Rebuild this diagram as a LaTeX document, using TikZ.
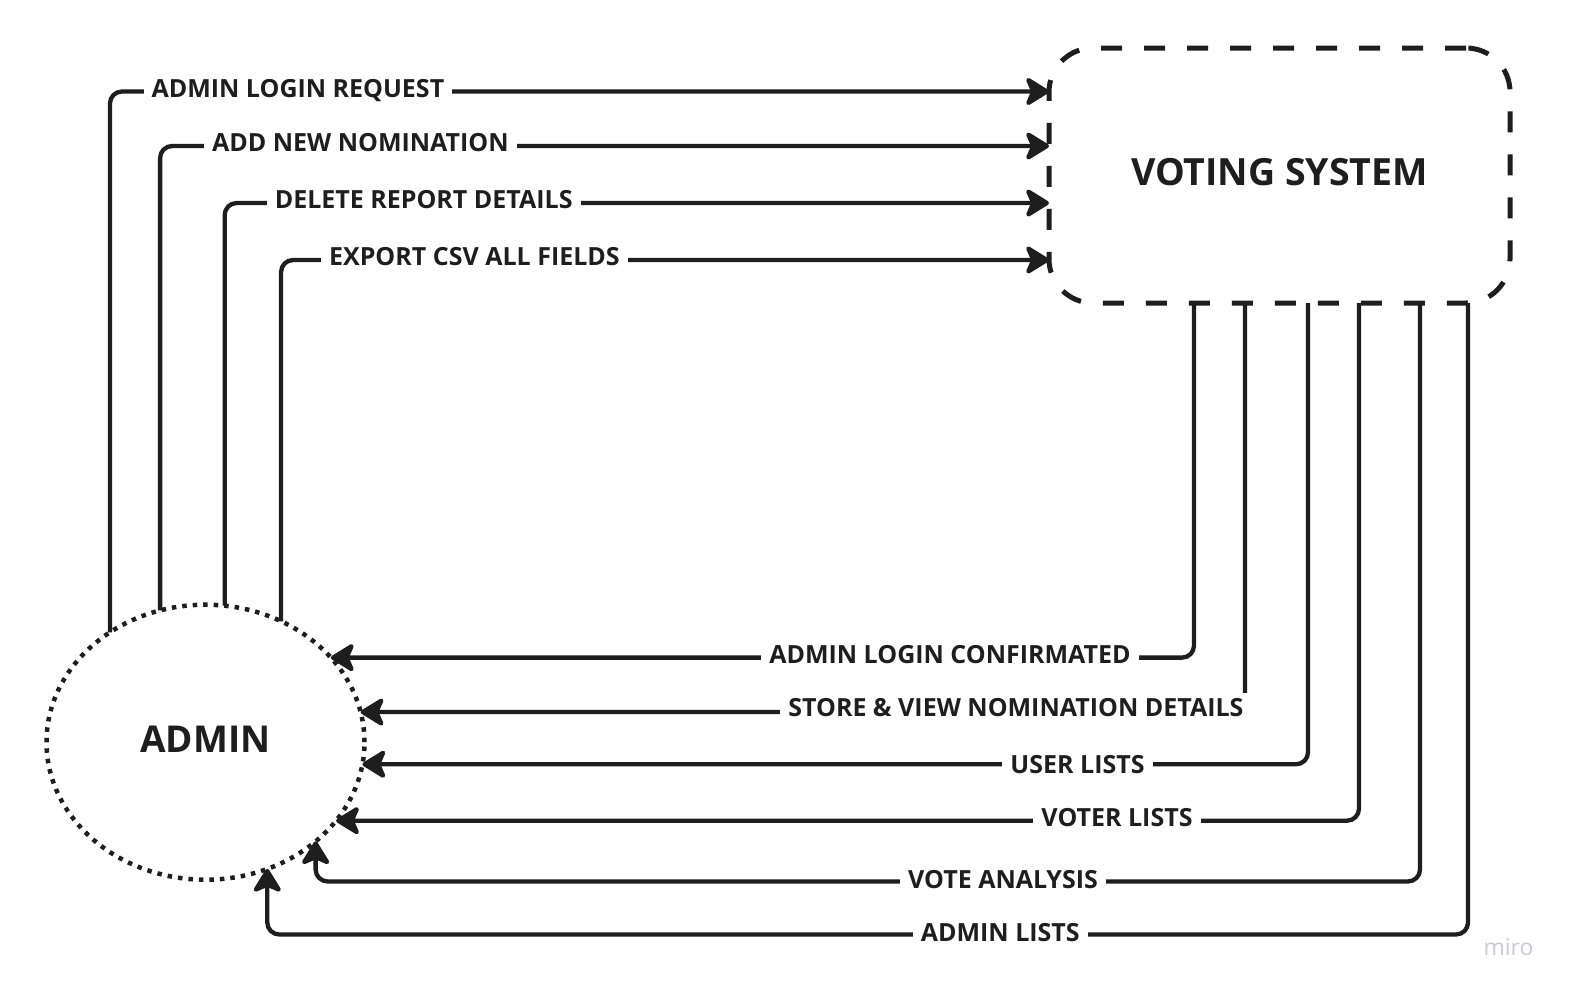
\documentclass[tikz,border=0pt]{standalone}
\usepackage{fontspec}
\setmainfont{Open Sans}
\usetikzlibrary{arrows.meta,shapes.geometric,backgrounds}
\definecolor{ink}{HTML}{1E1E1E}
\definecolor{miro}{HTML}{CACAD6}
\begin{document}
\begin{tikzpicture}[x=1pt,y=-1pt,
  conn/.style={draw=ink, line width=4.3pt, rounded corners=12pt},
  arr/.style={conn, -{Stealth[length=27pt,width=33pt,inset=7pt,round]}},
  lbl/.style={font=\fontsize{25}{29}\selectfont\bfseries, text=ink, fill=white,
              inner xsep=8pt, inner ysep=5pt, anchor=base},
  bigtxt/.style={font=\fontsize{37.5}{42}\selectfont\bfseries, text=ink, anchor=base},
]
\useasboundingbox (0,0) rectangle (1570,994);

% main nodes
\node[draw=ink, line width=5pt, dash pattern=on 21pt off 22pt,
      rounded corners=44pt, minimum width=461pt, minimum height=255pt,
      inner sep=0pt, outer sep=0pt] (vs) at (1279.5,175.5) {};
\node[bigtxt] (vstxt) at (1279.5,185.5) {VOTING SYSTEM};
\node[ellipse, draw=ink, line width=4.5pt, dash pattern=on 4.5pt off 6pt,
      minimum width=318pt, minimum height=275pt, inner sep=0pt, outer sep=0pt]
      (admin) at (205.5,742.2) {};
\node[bigtxt, font=\fontsize{37}{42}\selectfont\bfseries] (admintxt) at (205.5,752) {ADMIN};

% labels
\node[lbl] (l1) at (297.9,97) {ADMIN LOGIN REQUEST};
\node[lbl] (l2) at (360.4,151) {ADD NEW NOMINATION};
\node[lbl] (l3) at (423.7,208.5) {DELETE REPORT DETAILS};
\node[lbl] (l4) at (474.4,265.5) {EXPORT CSV ALL FIELDS};
\node[lbl] (l5) at (950,663.5) {ADMIN LOGIN CONFIRMATED};
\node[lbl] (l6) at (1015.9,716) {STORE \& VIEW NOMINATION DETAILS};
\node[lbl] (l7) at (1077.5,773.5) {USER LISTS};
\node[lbl] (l8) at (1117,826.7) {VOTER LISTS};
\node[lbl] (l9) at (1003,888.5) {VOTE ANALYSIS};
\node[lbl] (l10) at (1000.3,941.5) {ADMIN LISTS};

\node[font=\fontsize{23}{26}\selectfont, text=miro, anchor=base] (wm) at (1508.5,955) {miro};

\begin{pgfonlayer}{background}
\fill[white] (0,0) rectangle (1570,994);
% admin -> voting system
\draw[arr] (admin.131.3) |- ([yshift=84pt]vs.west);
\draw[arr] (admin.109.1) |- ([yshift=29.5pt]vs.west);
\draw[arr] (admin.82.3)  |- ([yshift=-27.5pt]vs.west);
\draw[arr] (admin.58.5)  |- ([yshift=-84.5pt]vs.west);
% voting system -> admin
\draw[arr] ([xshift=-85.5pt]vs.south) |- (admin.34.5);
\draw[arr] ([xshift=-34.5pt]vs.south) |- (admin.11.77);
\draw[arr] ([xshift=28.5pt]vs.south)  |- (admin.-8.9);
\draw[arr] ([xshift=79.5pt]vs.south)  |- (admin.-31.0);
\draw[arr] ([xshift=140.5pt]vs.south) |- ([yshift=-40.1pt]admin.-42.3) -- (admin.-42.3);
\draw[arr] ([xshift=188.5pt]vs.south) |- ([yshift=-65.6pt]admin.-64.56) -- (admin.-64.56);
\end{pgfonlayer}
\end{tikzpicture}
\end{document}
